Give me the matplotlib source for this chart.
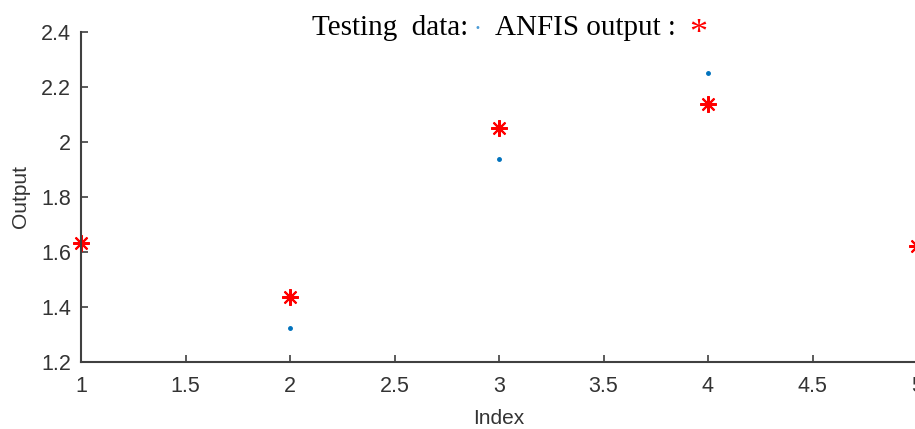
import numpy as np
import matplotlib.pyplot as plt

index = [1, 2, 3, 4, 5]
testing = [1.63, 1.324, 1.938, 2.251, 1.735]
anfis = [1.633, 1.436, 2.051, 2.138, 1.622]

plt.rcParams['font.family'] = ['Liberation Sans', 'DejaVu Sans']

fig = plt.figure(figsize=(9.15, 4.29), dpi=100)
ax = fig.add_axes([81/915, 1 - 362/429, 836/915, 330/429])

ax.plot(index, testing, ls='none', marker='.', ms=5, c='#0072BD', clip_on=False)
ax.plot(index, anfis, ls='none', marker=(8, 2, 0), ms=12, c='red', mew=1.5, clip_on=False)

ax.set_xlim(1, 5)
ax.set_ylim(1.2, 2.4)
ax.set_xticks([1, 1.5, 2, 2.5, 3, 3.5, 4, 4.5, 5])
ax.set_xticklabels(['1', '1.5', '2', '2.5', '3', '3.5', '4', '4.5', '5'])
ax.set_yticks([1.2, 1.4, 1.6, 1.8, 2, 2.2, 2.4])
ax.set_yticklabels(['1.2', '1.4', '1.6', '1.8', '2', '2.2', '2.4'])

for s in ['top', 'right']:
    ax.spines[s].set_visible(False)
for s in ['left', 'bottom']:
    ax.spines[s].set_color('#404040')
    ax.spines[s].set_linewidth(1.5)
ax.tick_params(direction='in', length=5, width=1.2, color='#404040',
               labelsize=15.5, labelcolor='#333333')
ax.tick_params(axis='x', pad=10)
ax.tick_params(axis='y', pad=7)

ax.set_xlabel('Index', fontsize=15, color='#333333', labelpad=9)
ax.set_ylabel('Output', fontsize=15, color='#333333', labelpad=8)

# title made of pieces, like the MATLAB one
serif = ['Liberation Serif', 'DejaVu Serif']
fig.text(312/915, 1 - 35/429, 'Testing  data:', family=serif, fontsize=21, va='baseline', ha='left')
fig.text(477/915, 1 - 28/429, '•', family=['DejaVu Sans'], fontsize=7, color='#4a9bd6', va='center', ha='center')
fig.text(495/915, 1 - 35/429, 'ANFIS output :', family=serif, fontsize=21, va='baseline', ha='left')
fig.text(698/915, 1 - 34/429, '*', family=serif, fontsize=26, color='red', va='center', ha='center')

fig.savefig('out.png', dpi=100)
